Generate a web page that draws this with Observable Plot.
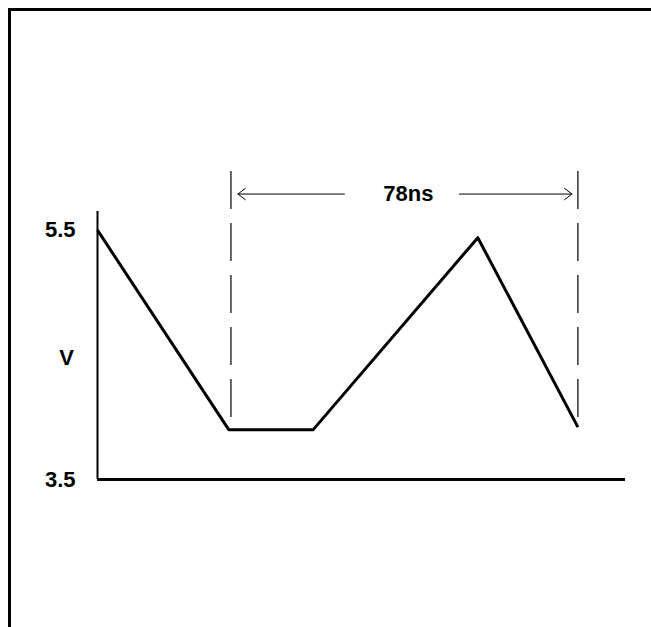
<!DOCTYPE html>
<html>
<head>
<meta charset="utf-8">
<script src="https://cdn.jsdelivr.net/npm/d3@7"></script>
<script src="https://cdn.jsdelivr.net/npm/@observablehq/plot@0.6"></script>
<style>
  html, body { margin: 0; padding: 0; background: #fff; }
  #wrap { position: relative; width: 651px; height: 627px; overflow: hidden; }
  #border { position: absolute; left: 8px; top: 8px; width: 700px; height: 700px;
            border-top: 3px solid #000; border-left: 3px solid #000; pointer-events: none; }
</style>
</head>
<body>
<div id="wrap"><div id="border"></div></div>
<script>
// Waveform (time in ns, voltage in V)
const timeNs = [0, 29.5, 48.5, 85.5, 108];
const volts  = [5.5, 3.9, 3.9, 5.44, 3.92];

// Axis ticks
const yTicks = [3.5, 5.5];
const yTickLabels = ["3.5", "5.5"];
const yAxisLabel = "V";

// Period marker
const markerTimes = [30, 108];
const markerBottom = [3.91, 3.92];
const markerTop = 5.97;
const arrowLevel = 5.79;
const periodLabel = "78ns";

const data = timeNs.map((t, i) => ({t, v: volts[i]}));
const markers = markerTimes.map((t, i) => ({t, top: markerTop, bottom: markerBottom[i]}));
const mid = (markerTimes[0] + markerTimes[1]) / 2;
const arrows = [
  {x1: mid, x2: markerTimes[0], insetStart: 60, insetEnd: 7},
  {x1: mid, x2: markerTimes[1], insetStart: 55, insetEnd: 6}
];

const chart = Plot.plot({
  width: 651,
  height: 627,
  marginLeft: 97,
  marginRight: 26,
  marginTop: 211,
  marginBottom: 148,
  x: {domain: [0, 118.7], axis: null},
  y: {domain: [3.5, 5.65], axis: null},
  style: {fontFamily: "'Liberation Sans', Arial, sans-serif", fontSize: "22px", fontWeight: "bold", background: "white", color: "black", overflow: "visible"},
  marks: [
    Plot.ruleX([0], {stroke: "black", strokeWidth: 2}),
    Plot.ruleY([yTicks[0]], {stroke: "black", strokeWidth: 3}),
    Plot.text(yTicks, {y: d => d, text: (d, i) => yTickLabels[i], frameAnchor: "left", dx: -22, textAnchor: "end", fill: "black"}),
    Plot.text([yAxisLabel], {y: [d3.mean(yTicks)], text: d => d, frameAnchor: "left", dx: -31, textAnchor: "middle", dy: 3, fill: "black"}),
    Plot.ruleX(markers, {x: "t", y1: "top", y2: "bottom", stroke: "black", strokeWidth: 1.2, strokeDasharray: "38,14"}),
    ...arrows.map(a => Plot.arrow([a], {x1: "x1", x2: "x2", y1: () => arrowLevel, y2: () => arrowLevel,
      stroke: "black", strokeWidth: 1, headLength: 14, headAngle: 75, insetStart: a.insetStart, insetEnd: a.insetEnd})),
    Plot.text([periodLabel], {x: [mid], y: [arrowLevel], text: d => d, dx: 4, fill: "black"}),
    Plot.line(data, {x: "t", y: "v", stroke: "black", strokeWidth: 3, strokeLinejoin: "round", strokeLinecap: "butt"})
  ]
});
document.getElementById("wrap").insertBefore(chart, document.getElementById("border"));
</script>
</body>
</html>
